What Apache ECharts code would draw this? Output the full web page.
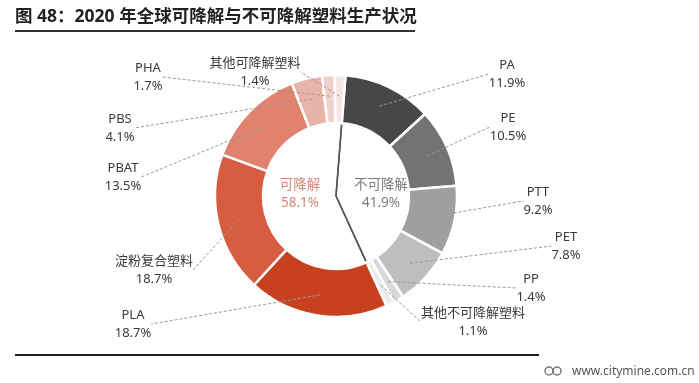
<!DOCTYPE html>
<html>
<head>
<meta charset="utf-8">
<script src="https://cdn.jsdelivr.net/npm/echarts@6/dist/echarts.min.js"></script>
<style>
html,body{margin:0;padding:0;background:#fff;}
#chart{width:699px;height:383px;}
</style>
</head>
<body>
<div id="chart"></div>
<script>
// ---- data ----
const categories = ['PA', 'PE', 'PTT', 'PET', 'PP', '其他不可降解塑料',
                    'PLA', '淀粉复合塑料', 'PBAT', 'PBS', 'PHA', '其他可降解塑料'];
const shares = [11.9, 10.5, 9.2, 7.8, 1.4, 1.1, 18.7, 18.7, 13.5, 4.1, 1.7, 1.4];
const groupNames = ['不可降解', '可降解'];
const groupShares = [41.9, 58.1];
const titleText = '图 48：2020 年全球可降解与不可降解塑料生产状况';
const sourceText = 'www.citymine.com.cn';

// ---- styling / layout ----
const segColors = ['#474747', '#737373', '#9f9f9f', '#bebebe', '#d9d9d9', '#ebebeb',
                   '#c8411f', '#d65d40', '#e0826d', '#e8b3a8', '#efd1cb', '#f6e5e2'];
const groupLabelColors = ['#7d7d7d', '#d5877a'];
const CENTER = [336, 196];
const R_IN = 73, R_OUT = 121;
const START = 85.5;
const labelPos = [[507, 74], [508, 127], [538, 201], [566, 246], [531, 288], [473, 322],
                  [133, 324], [154, 270], [123, 177], [120, 128], [148, 77], [255, 72]];
const groupLabelPos = [[381, 194], [300, 194]];
const FONT = '"Noto Sans", "Noto Sans CJK SC", sans-serif';

const chart = echarts.init(document.getElementById('chart'), null, {renderer: 'canvas'});

const ringData = categories.map((n, i) => ({name: n, value: shares[i], itemStyle: {color: segColors[i]}}));
const labelData = categories.map((n, i) => ({name: n, value: shares[i]}));
const groupData = groupNames.map((n, i) => ({name: n, value: groupShares[i],
  label: {color: groupLabelColors[i]}}));

const option = {
  backgroundColor: '#ffffff',
  animation: false,
  series: [
    {
      // inner halves: radial divider lines + centre labels
      type: 'pie', silent: true, center: CENTER, radius: [0, R_IN],
      startAngle: START, avoidLabelOverlap: false, z: 1,
      itemStyle: {color: 'rgba(0,0,0,0)', borderColor: '#555555', borderWidth: 1.5},
      label: {show: true, position: 'inside', fontFamily: FONT, fontSize: 13.5, lineHeight: 18,
        formatter: p => p.name + '\n' + p.value.toFixed(1) + '%'},
      labelLine: {show: false},
      labelLayout: p => ({x: groupLabelPos[p.dataIndex][0], y: groupLabelPos[p.dataIndex][1],
        align: 'center', verticalAlign: 'middle'}),
      data: groupData
    },
    {
      // coloured ring
      type: 'pie', silent: true, center: CENTER, radius: [R_IN, R_OUT],
      startAngle: START, z: 2,
      itemStyle: {borderColor: '#ffffff', borderWidth: 2.5},
      label: {show: false}, labelLine: {show: false},
      data: ringData
    },
    {
      // transparent twin carrying outer labels and dashed leaders
      type: 'pie', silent: true, center: CENTER, radius: [0, 100],
      startAngle: START, avoidLabelOverlap: false, z: 3,
      itemStyle: {color: 'rgba(0,0,0,0)', borderWidth: 0},
      label: {show: true, position: 'outside', fontFamily: FONT, fontSize: 13, lineHeight: 18,
        color: '#3a3a3a', formatter: p => p.name + '\n' + p.value.toFixed(1) + '%'},
      labelLine: {show: true, length: 10, length2: 0, smooth: false,
        lineStyle: {type: [3, 2], color: '#9a9a9a', width: 1}},
      labelLayout: p => ({x: labelPos[p.dataIndex][0], y: labelPos[p.dataIndex][1],
        align: 'center', verticalAlign: 'middle'}),
      data: labelData
    }
  ],
  graphic: [
    {type: 'text', x: 15, y: 17, style: {text: titleText, fill: '#222222',
      font: 'bold 17.5px ' + FONT, verticalAlign: 'middle', align: 'left'}},
    {type: 'line', shape: {x1: 15, y1: 31, x2: 415, y2: 31}, style: {stroke: '#333333', lineWidth: 2}},
    {type: 'line', shape: {x1: 15, y1: 355, x2: 539, y2: 355}, style: {stroke: '#222222', lineWidth: 2}},
    {type: 'circle', shape: {cx: 549, cy: 371, r: 4}, style: {fill: 'none', stroke: '#777', lineWidth: 1.5}},
    {type: 'circle', shape: {cx: 557, cy: 371, r: 4}, style: {fill: 'none', stroke: '#777', lineWidth: 1.5}},
    {type: 'text', x: 572, y: 372, style: {text: sourceText, fill: '#555555',
      font: '12px ' + FONT, verticalAlign: 'middle', align: 'left'}}
  ]
};
chart.setOption(option);
</script>
</body>
</html>
